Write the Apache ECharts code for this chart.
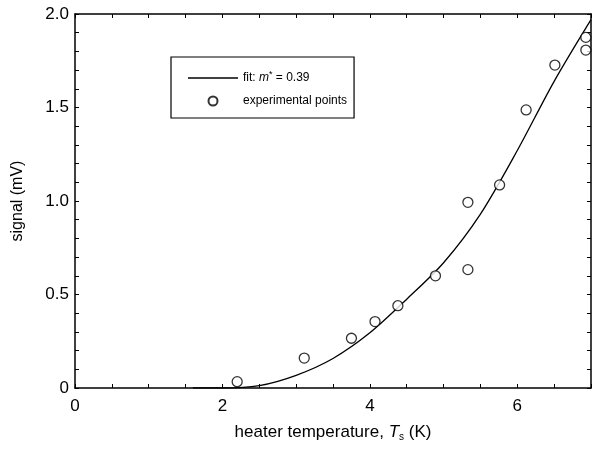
<!DOCTYPE html>
<html>
<head>
	<meta charset="utf-8">
	<script src="https://cdn.jsdelivr.net/npm/echarts@6/dist/echarts.min.js"></script>
	<title>signal vs heater temperature</title>
</head>
<body style="margin:0;background:#fff;">
	<div id="main" style="width: 594px;height:466px;"></div>

	<script type="text/javascript">
	    // measured points
	    var expT = [2.2, 3.11, 3.75, 4.07, 4.38, 4.89, 5.33, 5.33, 5.76, 6.12, 6.51, 6.93, 6.93];
	    var expS = [0.034, 0.16, 0.266, 0.355, 0.44, 0.60, 0.633, 0.993, 1.086, 1.487, 1.727, 1.875, 1.807];
	    // fit curve
	    var fitT = [1.6, 2.0, 2.5, 3.0, 3.5, 4.0, 4.5, 5.0, 5.5, 6.0, 6.5, 7.0];
	    var fitS = [0, 0.0, 0.013, 0.068, 0.158, 0.295, 0.475, 0.67, 0.93, 1.27, 1.64, 1.97];
	    var xTickLabels = [0, 2, 4, 6];
	    var yTickLabels = [0, 0.5, 1.0, 1.5, 2.0];

	    function onList(list, v) {
	        for (var i = 0; i < list.length; i++) {
	            if (Math.abs(list[i] - v) < 1e-6) return true;
	        }
	        return false;
	    }

	    var fitData = fitT.map(function (t, i) { return [t, fitS[i]]; });
	    var expData = expT.map(function (t, i) { return [t, expS[i]]; });

	    var font = 'Liberation Sans, Arial, sans-serif';
	    var frame = { onZero: false, lineStyle: { color: '#000', width: 1.5 } };
	    var ticks = { inside: true, length: 4, lineStyle: { color: '#000' } };

	    var myChart = echarts.init(document.getElementById('main'));

	    var option = {
	        animation: false,
	        backgroundColor: '#fff',
	        textStyle: { fontFamily: font, color: '#000' },
	        grid: { left: 75, right: 0, top: 14, bottom: 78 },
	        legend: {
	            orient: 'vertical',
	            left: 171,
	            top: 57,
	            padding: [13, 7, 11, 17],
	            itemWidth: 50,
	            itemHeight: 9,
	            itemGap: 11,
	            borderColor: '#000',
	            borderWidth: 1.2,
	            borderRadius: 0,
	            data: [
	                { name: 'fit', icon: 'path://M0,0 L50,0 L50,1.3 L0,1.3 Z' },
	                { name: 'experimental points' }
	            ],
	            formatter: function (name) {
	                if (name === 'fit') return '{t|fit: }{i|m}{u|*}{t| = 0.39}';
	                return '{t|experimental points}';
	            },
	            textStyle: {
	                fontFamily: font,
	                color: '#000',
	                rich: {
	                    t: { fontSize: 12, fontFamily: font, color: '#000' },
	                    i: { fontSize: 12, fontFamily: font, fontStyle: 'italic', color: '#000' },
	                    u: { fontSize: 9, fontFamily: font, color: '#000', padding: [0, 0, 7, 0] }
	                }
	            }
	        },
	        xAxis: [{
	            type: 'value',
	            min: 0, max: 7, interval: 0.5,
	            name: '{n|heater temperature, }{i|T}{s|s}{n| (K)}',
	            nameLocation: 'middle',
	            nameGap: 35,
	            nameTextStyle: {
	                rich: {
	                    n: { fontSize: 17, fontFamily: font, color: '#000' },
	                    i: { fontSize: 17, fontFamily: font, fontStyle: 'italic', color: '#000' },
	                    s: { fontSize: 10, fontFamily: font, color: '#000', padding: [9, 0, 0, 0] }
	                }
	            },
	            axisLine: frame,
	            axisTick: ticks,
	            axisLabel: {
	                interval: 0, margin: 10, fontSize: 17, color: '#000', fontFamily: font,
	                formatter: function (v) { return onList(xTickLabels, v) ? String(Math.round(v)) : ''; }
	            },
	            splitLine: { show: false }
	        }, {
	            type: 'value', position: 'top',
	            min: 0, max: 7, interval: 0.5,
	            axisLine: frame,
	            axisTick: ticks,
	            axisLabel: { show: false },
	            splitLine: { show: false }
	        }],
	        yAxis: [{
	            type: 'value',
	            min: 0, max: 2, interval: 0.1,
	            name: 'signal (mV)',
	            nameLocation: 'middle',
	            nameGap: 49,
	            nameTextStyle: { fontSize: 16, fontFamily: font, color: '#000' },
	            axisLine: frame,
	            axisTick: ticks,
	            axisLabel: {
	                interval: 0, margin: 6, fontSize: 17, color: '#000', fontFamily: font,
	                formatter: function (v) {
	                    if (!onList(yTickLabels, v)) return '';
	                    return Math.abs(v) < 1e-6 ? '0' : v.toFixed(1);
	                }
	            },
	            splitLine: { show: false }
	        }, {
	            type: 'value', position: 'right',
	            min: 0, max: 2, interval: 0.1,
	            axisLine: frame,
	            axisTick: ticks,
	            axisLabel: { show: false },
	            splitLine: { show: false }
	        }],
	        series: [{
	            name: 'fit',
	            type: 'line',
	            data: fitData,
	            smooth: 0.3,
	            symbol: 'none',
	            lineStyle: { color: '#000', width: 1.3 },
	            itemStyle: { color: '#000' },
	            z: 2
	        }, {
	            name: 'experimental points',
	            type: 'scatter',
	            data: expData,
	            symbol: 'circle',
	            symbolSize: 10,
	            itemStyle: { color: '#fff', borderColor: '#000', borderWidth: 1.3 },
	            z: 3
	        }]
	    };

	    myChart.setOption(option);
	</script>
</body>
</html>
